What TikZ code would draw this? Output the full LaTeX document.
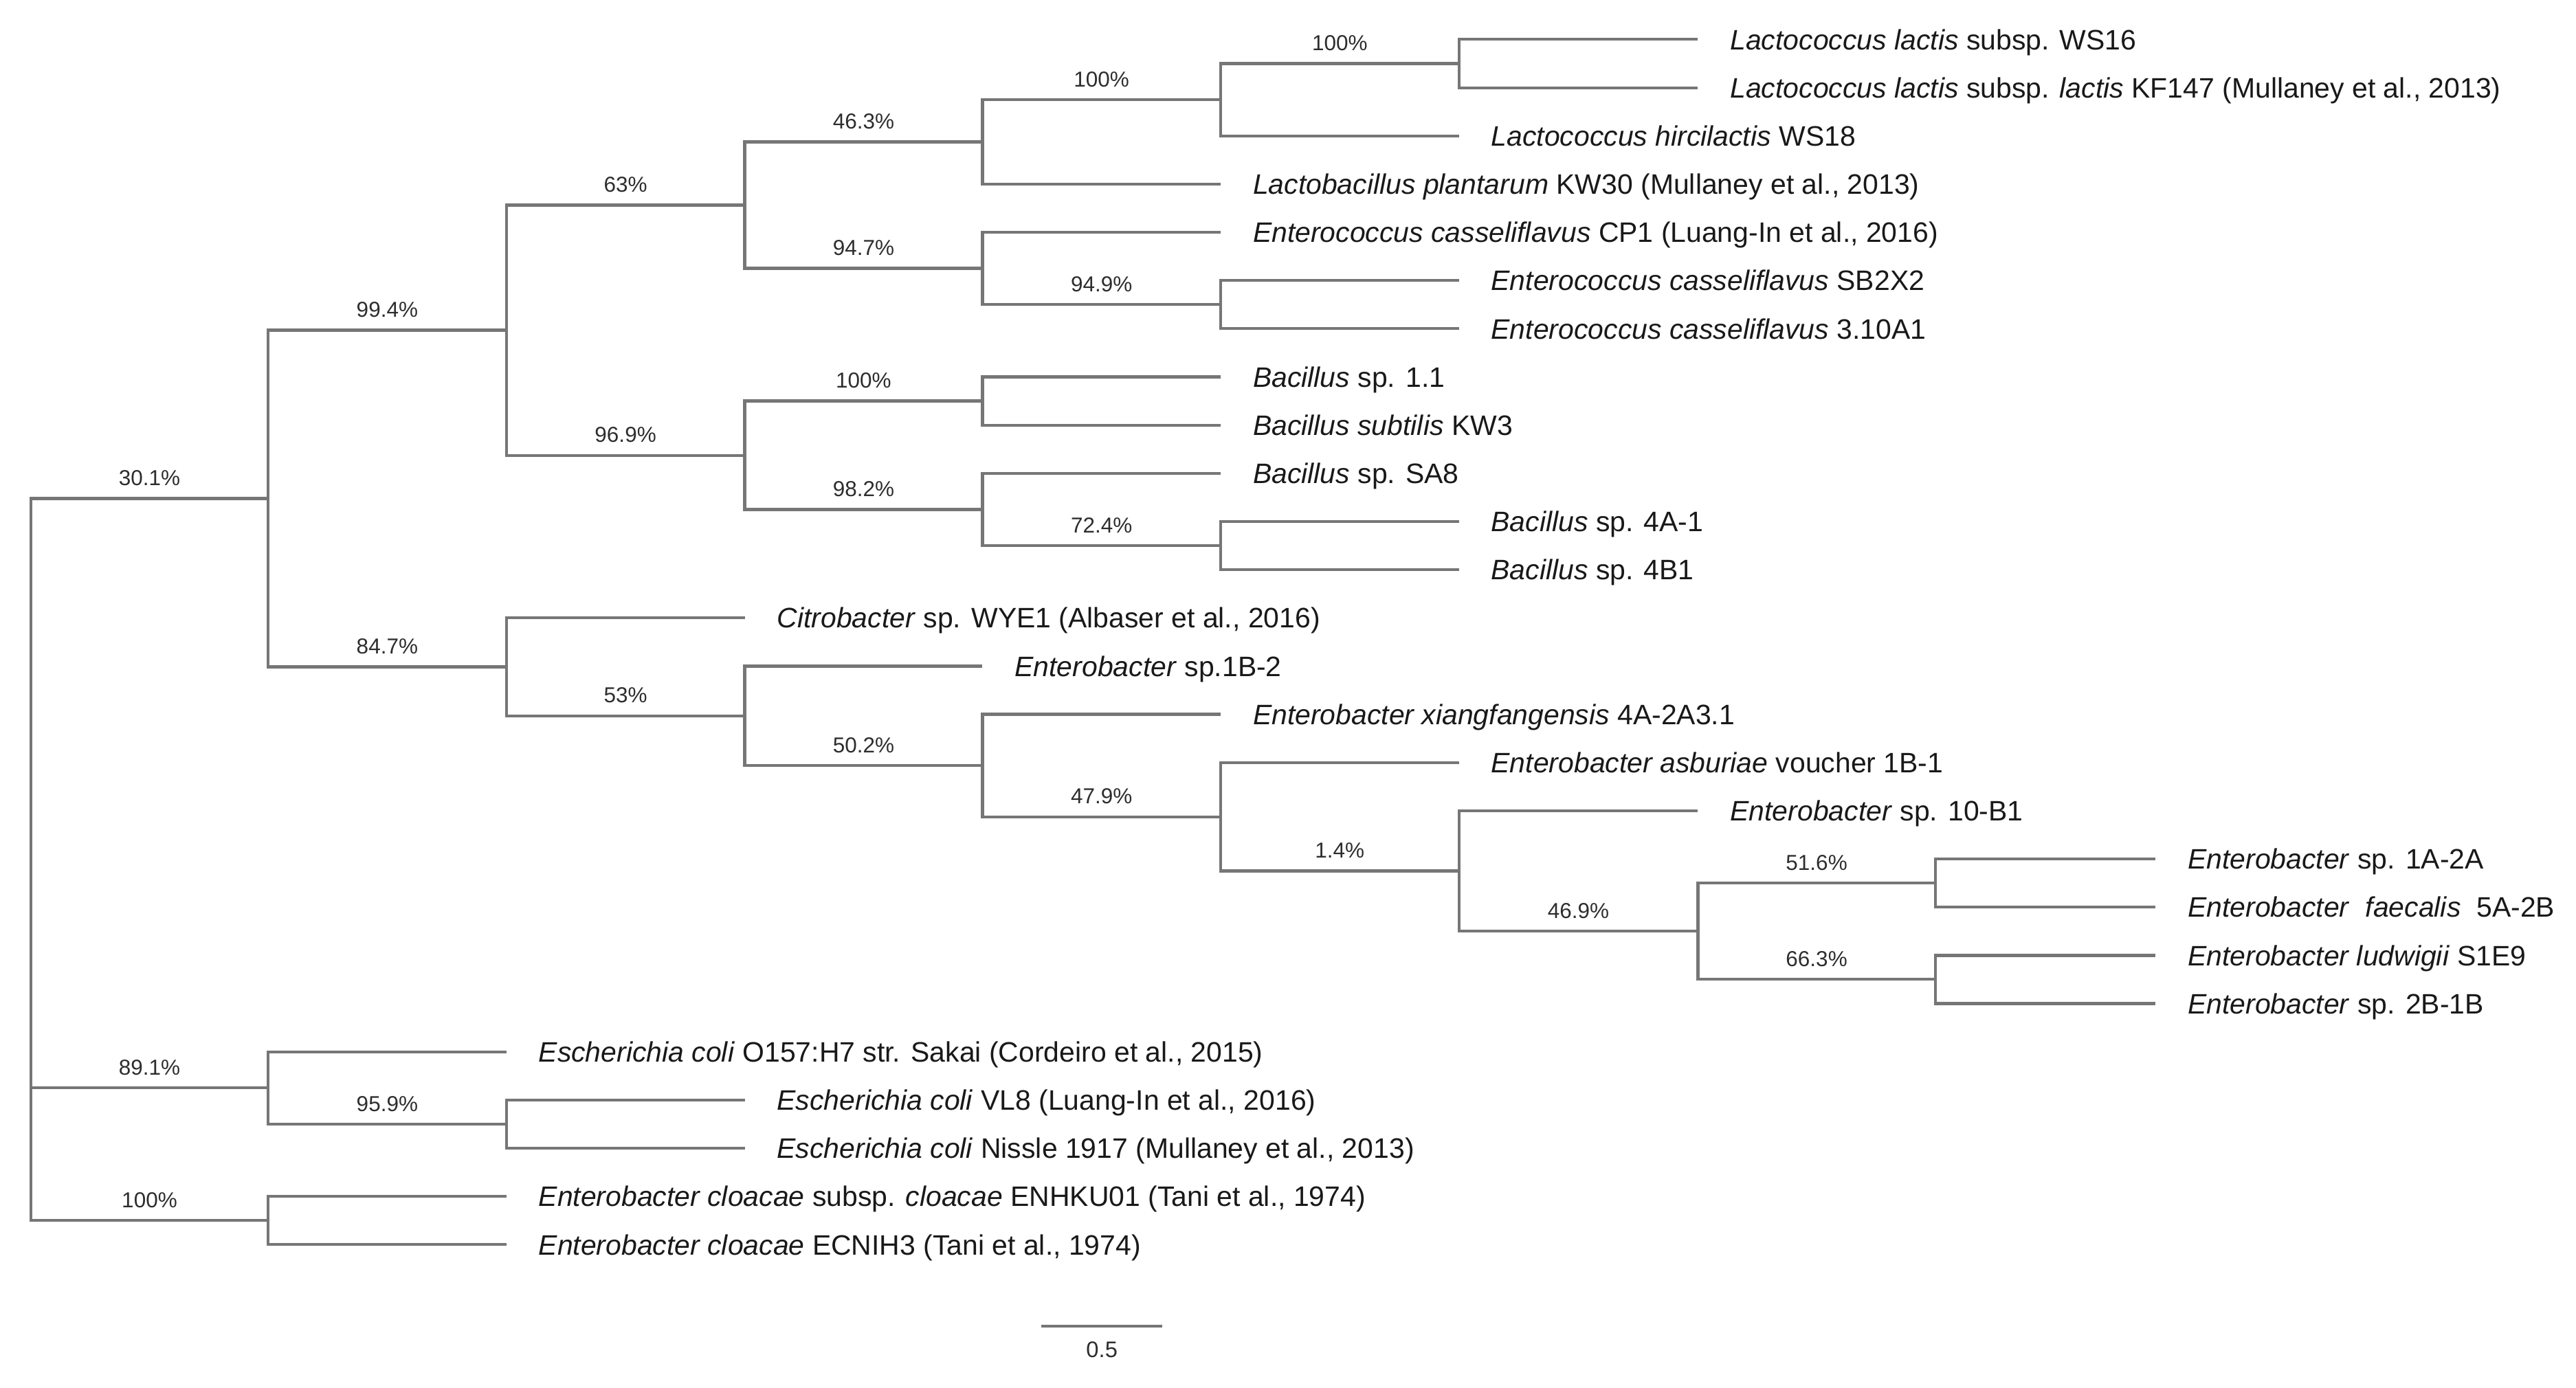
\documentclass[tikz,border=0pt]{standalone}
\usepackage{fontspec}
\setmainfont{Liberation Sans}
\usepackage{tikz}
\usetikzlibrary{positioning}

\definecolor{branchgray}{RGB}{118,118,118}
\definecolor{labelgray}{RGB}{45,45,45}

\tikzset{
  branch/.style={draw=branchgray, line width=1pt},
  taxon/.style={anchor=west, inner xsep=11pt, inner ysep=0pt, text height=7pt, text depth=0pt,
    font=\fontsize{9.75}{11}\selectfont, text=black!90},
  boot/.style={pos=.75, above=4pt, inner sep=0pt, text depth=0pt,
    font=\fontsize{7.5}{9}\selectfont, text=labelgray},
  scalelab/.style={inner sep=0pt, text depth=0pt, font=\fontsize{7.8}{9}\selectfont, text=labelgray}
}

\begin{document}
\begin{tikzpicture}[x=0.02cm, y=-0.02cm]
  \useasboundingbox (0,0) rectangle (1568,845);

  % Internal nodes
  \coordinate (root) at (18.8,523);
  \coordinate (n301) at (163.2,303.5);
  \coordinate (n994) at (308.2,201.0);
  \coordinate (n630) at (453.3,124.9);
  \coordinate (n463) at (598,86.4);
  \coordinate (n100a) at (743,60.7);
  \coordinate (n100b) at (888,38.7);
  \coordinate (n947) at (598,163.4);
  \coordinate (n949) at (743,185.4);
  \coordinate (n969) at (453.3,277.2);
  \coordinate (n100c) at (598,244.1);
  \coordinate (n982) at (598,310.2);
  \coordinate (n724) at (743,332.2);
  \coordinate (n847) at (308.2,406.0);
  \coordinate (n530) at (453.3,435.8);
  \coordinate (n502) at (598,466.1);
  \coordinate (n479) at (743,497.3);
  \coordinate (n014) at (888,530.3);
  \coordinate (n469) at (1033.5,567.0);
  \coordinate (n516) at (1178,537.6);
  \coordinate (n663) at (1178,596.3);
  \coordinate (n891) at (163.2,662.4);
  \coordinate (n959) at (308.2,684.4);
  \coordinate (n100d) at (163.2,743.1);

  % Taxa
  \node[taxon] (ws16) at (1033.5,24.0) {\textit{Lactococcus lactis} subsp. WS16};
  \node[taxon] (kf147) at (1033.5,53.4) {\textit{Lactococcus lactis} subsp. \textit{lactis} KF147 (Mullaney et al., 2013)};
  \node[taxon] (ws18) at (888,82.7) {\textit{Lactococcus hircilactis} WS18};
  \node[taxon] (kw30) at (743,112.1) {\textit{Lactobacillus plantarum} KW30 (Mullaney et al., 2013)};
  \node[taxon] (cp1) at (743,141.4) {\textit{Enterococcus casseliflavus} CP1 (Luang-In et al., 2016)};
  \node[taxon] (sb2x2) at (888,170.8) {\textit{Enterococcus casseliflavus} SB2X2};
  \node[taxon] (cas3) at (888,200.1) {\textit{Enterococcus casseliflavus} 3.10A1};
  \node[taxon] (bac11) at (743,229.5) {\textit{Bacillus} sp. 1.1};
  \node[taxon] (kw3) at (743,258.8) {\textit{Bacillus subtilis} KW3};
  \node[taxon] (sa8) at (743,288.2) {\textit{Bacillus} sp. SA8};
  \node[taxon] (b4a1) at (888,317.5) {\textit{Bacillus} sp. 4A-1};
  \node[taxon] (b4b1) at (888,346.9) {\textit{Bacillus} sp. 4B1};
  \node[taxon] (wye1) at (453.3,376.2) {\textit{Citrobacter} sp. WYE1 (Albaser et al., 2016)};
  \node[taxon] (e1b2) at (598,405.6) {\textit{Enterobacter} sp.1B-2};
  \node[taxon] (xiang) at (743,434.9) {\textit{Enterobacter xiangfangensis} 4A-2A3.1};
  \node[taxon] (asbu) at (888,464.3) {\textit{Enterobacter asburiae} voucher 1B-1};
  \node[taxon] (e10b1) at (1033.5,493.6) {\textit{Enterobacter} sp. 10-B1};
  \node[taxon] (e1a2a) at (1312,523.0) {\textit{Enterobacter} sp. 1A-2A};
  \node[taxon] (faec) at (1312,552.3) {\textit{Enterobacter}\ \ \textit{faecalis}\ \ 5A-2B};
  \node[taxon] (ludw) at (1312,581.7) {\textit{Enterobacter ludwigii} S1E9};
  \node[taxon] (e2b1b) at (1312,611.0) {\textit{Enterobacter} sp. 2B-1B};
  \node[taxon] (o157) at (308.2,640.4) {\textit{Escherichia coli} O157:H7 str. Sakai (Cordeiro et al., 2015)};
  \node[taxon] (vl8) at (453.3,669.7) {\textit{Escherichia coli} VL8 (Luang-In et al., 2016)};
  \node[taxon] (nissle) at (453.3,699.1) {\textit{Escherichia coli} Nissle 1917 (Mullaney et al., 2013)};
  \node[taxon] (enhku) at (308.2,728.4) {\textit{Enterobacter cloacae} subsp. \textit{cloacae} ENHKU01 (Tani et al., 1974)};
  \node[taxon] (ecnih) at (308.2,757.8) {\textit{Enterobacter cloacae} ECNIH3 (Tani et al., 1974)};

  % Root
  \draw[branch] (root) |- node[boot] (b301) {30.1\%} (n301);
  \draw[branch] (root) |- node[boot] (b891) {89.1\%} (n891);
  \draw[branch] (root) |- node[boot] (b100d) {100\%} (n100d);

  % Upper clade
  \draw[branch] (n301) |- node[boot] (b994) {99.4\%} (n994);
  \draw[branch] (n301) |- node[boot] (b847) {84.7\%} (n847);
  \draw[branch] (n994) |- node[boot] (b630) {63\%} (n630);
  \draw[branch] (n994) |- node[boot] (b969) {96.9\%} (n969);
  \draw[branch] (n630) |- node[boot] (b463) {46.3\%} (n463);
  \draw[branch] (n630) |- node[boot] (b947) {94.7\%} (n947);
  \draw[branch] (n463) |- node[boot] (b100a) {100\%} (n100a);
  \draw[branch] (n463) |- (kw30.west);
  \draw[branch] (n100a) |- node[boot] (b100b) {100\%} (n100b);
  \draw[branch] (n100a) |- (ws18.west);
  \draw[branch] (n100b) |- (ws16.west);
  \draw[branch] (n100b) |- (kf147.west);
  \draw[branch] (n947) |- (cp1.west);
  \draw[branch] (n947) |- node[boot] (b949) {94.9\%} (n949);
  \draw[branch] (n949) |- (sb2x2.west);
  \draw[branch] (n949) |- (cas3.west);

  % Bacillus
  \draw[branch] (n969) |- node[boot] (b100c) {100\%} (n100c);
  \draw[branch] (n969) |- node[boot] (b982) {98.2\%} (n982);
  \draw[branch] (n100c) |- (bac11.west);
  \draw[branch] (n100c) |- (kw3.west);
  \draw[branch] (n982) |- (sa8.west);
  \draw[branch] (n982) |- node[boot] (b724) {72.4\%} (n724);
  \draw[branch] (n724) |- (b4a1.west);
  \draw[branch] (n724) |- (b4b1.west);

  % Citrobacter / Enterobacter
  \draw[branch] (n847) |- (wye1.west);
  \draw[branch] (n847) |- node[boot] (b530) {53\%} (n530);
  \draw[branch] (n530) |- (e1b2.west);
  \draw[branch] (n530) |- node[boot] (b502) {50.2\%} (n502);
  \draw[branch] (n502) |- (xiang.west);
  \draw[branch] (n502) |- node[boot] (b479) {47.9\%} (n479);
  \draw[branch] (n479) |- (asbu.west);
  \draw[branch] (n479) |- node[boot] (b014) {1.4\%} (n014);
  \draw[branch] (n014) |- (e10b1.west);
  \draw[branch] (n014) |- node[boot] (b469) {46.9\%} (n469);
  \draw[branch] (n469) |- node[boot] (b516) {51.6\%} (n516);
  \draw[branch] (n469) |- node[boot] (b663) {66.3\%} (n663);
  \draw[branch] (n516) |- (e1a2a.west);
  \draw[branch] (n516) |- (faec.west);
  \draw[branch] (n663) |- (ludw.west);
  \draw[branch] (n663) |- (e2b1b.west);

  % E. coli and E. cloacae
  \draw[branch] (n891) |- (o157.west);
  \draw[branch] (n891) |- node[boot] (b959) {95.9\%} (n959);
  \draw[branch] (n959) |- (vl8.west);
  \draw[branch] (n959) |- (nissle.west);
  \draw[branch] (n100d) |- (enhku.west);
  \draw[branch] (n100d) |- (ecnih.west);

  % Scale bar
  \coordinate (sbl) at (633.8,807.4);
  \coordinate (sbr) at (707.5,807.4);
  \draw[branch] (sbl) -- (sbr);
  \node[scalelab] (sbtext) at (670.7,821.8) {0.5};
\end{tikzpicture}
\end{document}
